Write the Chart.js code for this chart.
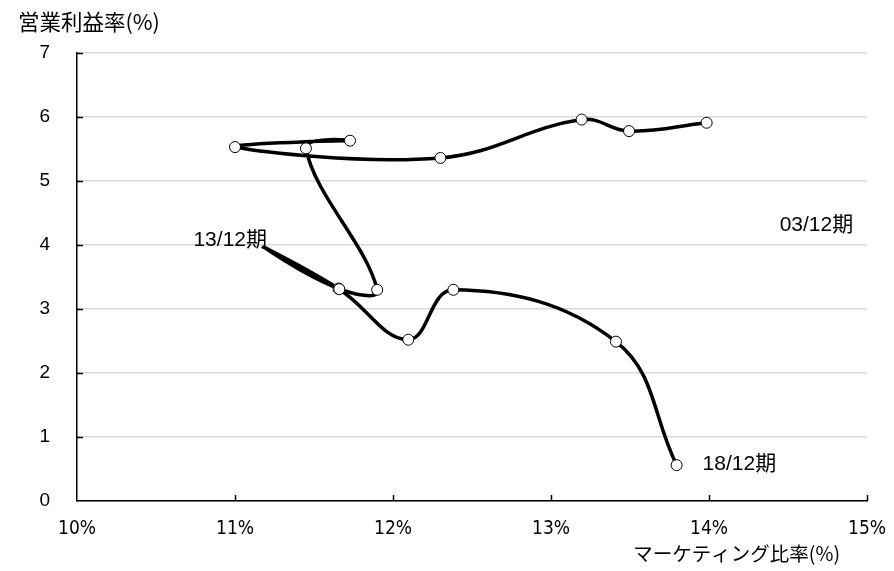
<!DOCTYPE html>
<html>
<head>
<meta charset="utf-8">
<script src="https://cdn.jsdelivr.net/npm/chart.js@4.4.1/dist/chart.umd.min.js"></script>
<style>
  html, body { margin: 0; padding: 0; background: #fff; }
  #wrap { width: 894px; height: 571px; position: relative; }
</style>
</head>
<body>
<div id="wrap"><canvas id="chart"></canvas></div>
<script>
// マーケティング比率 (x, %) と 営業利益率 (y, %) の推移
const marketingRatio = [13.985, 13.494, 13.194, 12.30, 11.0, 11.728, 11.449, 11.90, 11.655, 11.18, 11.66, 12.097, 12.382, 13.411, 13.795];
const operatingMargin = [5.91, 5.78, 5.96, 5.36, 5.53, 5.63, 5.51, 3.30, 3.32, 3.97, 3.31, 2.52, 3.30, 2.49, 0.56];
const periodLabels = ['03/12期', '', '', '', '', '', '', '', '', '13/12期', '', '', '', '', '18/12期'];
const xTicks = [10, 11, 12, 13, 14, 15];
const yTicks = [0, 1, 2, 3, 4, 5, 6, 7];

// label placement relative to its point (left edge, vertical middle)
const labelOffsets = {
    0: { dx: 73, dy: 102 },
    9: { dx: -70, dy: -7 },
    14: { dx: 26, dy: -1 },
};

const points = marketingRatio.map((x, i) => ({ x, y: operatingMargin[i] }));

const textFont = "21px 'Liberation Sans', 'Noto Sans CJK JP', sans-serif";

const innerTicksPlugin = {
    id: 'innerTicks',
    afterDraw(chart) {
        const { ctx, chartArea, scales } = chart;
        ctx.save();
        ctx.strokeStyle = '#000';
        ctx.lineWidth = 1.5;
        ctx.beginPath();
        yTicks.slice(1).forEach((v) => {
            const y = Math.round(scales.y.getPixelForValue(v)) + 0.5;
            ctx.moveTo(chartArea.left, y);
            ctx.lineTo(chartArea.left + 6, y);
        });
        xTicks.slice(1).forEach((v) => {
            const x = Math.round(scales.x.getPixelForValue(v)) + 0.5;
            ctx.moveTo(x, chartArea.bottom);
            ctx.lineTo(x, chartArea.bottom - 6);
        });
        ctx.stroke();
        ctx.restore();
    },
};

const periodLabelsPlugin = {
    id: 'periodLabels',
    afterDatasetsDraw(chart) {
        const { ctx } = chart;
        const meta = chart.getDatasetMeta(0);
        ctx.save();
        ctx.font = textFont;
        ctx.fillStyle = '#000';
        ctx.textAlign = 'left';
        ctx.textBaseline = 'middle';
        periodLabels.forEach((text, i) => {
            if (!text) return;
            const pt = meta.data[i];
            const off = labelOffsets[i] || { dx: 10, dy: 0 };
            ctx.fillText(text, pt.x + off.dx, pt.y + off.dy);
        });
        ctx.restore();
    },
};

const axisTitlesPlugin = {
    id: 'axisTitles',
    afterDraw(chart) {
        const { ctx } = chart;
        ctx.save();
        ctx.fillStyle = '#000';
        ctx.textBaseline = 'middle';
        ctx.textAlign = 'left';
        ctx.font = "21.5px 'Noto Sans CJK JP', sans-serif";
        ctx.fillText('営業利益率(%)', 18, 22);
        ctx.textAlign = 'right';
        ctx.font = "19.5px 'Noto Sans CJK JP', sans-serif";
        ctx.fillText('マーケティング比率(%)', 840, 554);
        ctx.restore();
    },
};

new Chart(document.getElementById('chart'), {
    type: 'scatter',
    data: {
        datasets: [{
            data: points,
            showLine: true,
            borderColor: '#000',
            borderWidth: 3.5,
            tension: 0.4,
            pointRadius: (ctx) => (ctx.dataIndex === 9 ? 0 : 5.5),
            pointBackgroundColor: '#fff',
            pointBorderColor: '#000',
            pointBorderWidth: 1,
        }],
    },
    options: {
        responsive: true,
        maintainAspectRatio: false,
        animation: false,
        events: [],
        layout: { padding: { top: 53, right: 27, left: 0, bottom: 0 } },
        scales: {
            x: {
                type: 'linear',
                min: 10,
                max: 15,
                afterFit: (s) => {
                    s.height = 70;
                    s.paddingLeft = 0;
                    s.paddingRight = 0;
                },
                afterBuildTicks: (s) => { s.ticks = xTicks.map((value) => ({ value })); },
                grid: { display: false, drawTicks: false },
                border: { display: true, color: '#000', width: 1.5 },
                ticks: {
                    padding: 17,
                    color: '#000',
                    font: { family: "'Liberation Sans Narrow', 'DejaVu Sans Condensed', sans-serif", size: 19 },
                    callback: (v) => v + '%',
                },
            },
            y: {
                type: 'linear',
                min: 0,
                max: 7,
                afterFit: (s) => {
                    s.width = 77;
                    s.paddingTop = 0;
                    s.paddingBottom = 0;
                },
                afterBuildTicks: (s) => { s.ticks = yTicks.map((value) => ({ value })); },
                grid: { color: '#d9d9d9', lineWidth: 1.5, drawTicks: false },
                border: { display: true, color: '#000', width: 1.5 },
                ticks: {
                    padding: 27,
                    color: '#000',
                    font: { family: "'Liberation Sans', sans-serif", size: 19 },
                },
            },
        },
        plugins: {
            legend: { display: false },
            tooltip: { enabled: false },
        },
    },
    plugins: [innerTicksPlugin, periodLabelsPlugin, axisTitlesPlugin],
});
</script>
</body>
</html>
